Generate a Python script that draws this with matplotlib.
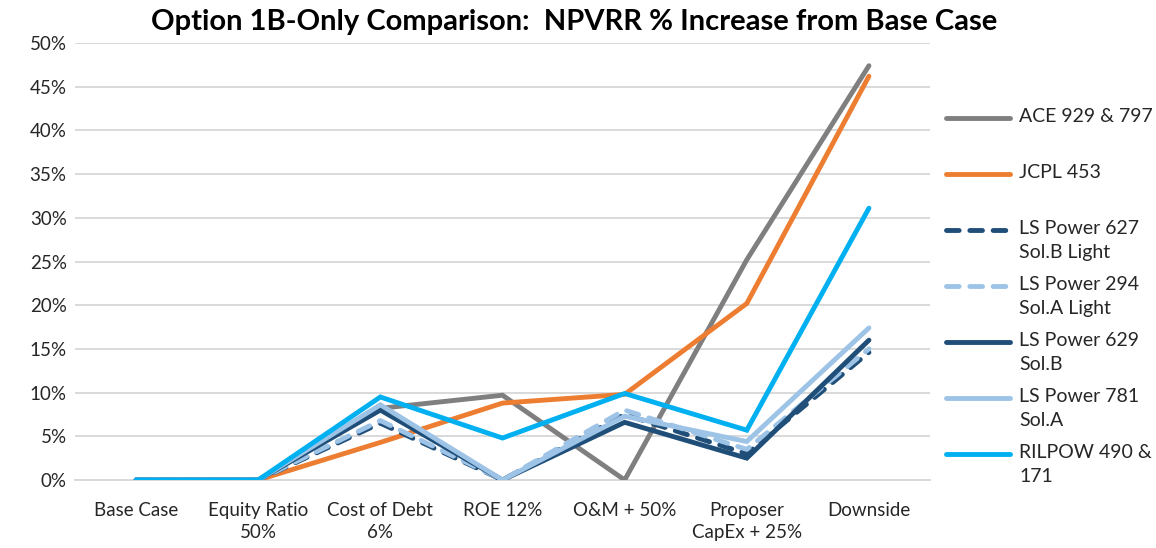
import matplotlib
matplotlib.use("Agg")
import matplotlib.pyplot as plt
from matplotlib.lines import Line2D
from matplotlib.ticker import FuncFormatter, MultipleLocator

plt.rcParams['font.family'] = ['Lato', 'DejaVu Sans']

categories = ["Base Case", "Equity Ratio\n50%", "Cost of Debt\n6%", "ROE 12%",
              "O&M + 50%", "Proposer\nCapEx + 25%", "Downside"]

ace = [0, 0, 8.2, 9.7, 0, 25.2, 47.4]
jcpl = [0, 0, 4.3, 8.8, 9.8, 20.2, 46.2]
ls627 = [0, 0, 6.5, 0, 7.5, 3.0, 14.6]
ls294 = [0, 0, 6.8, 0, 8.0, 3.5, 15.0]
ls629 = [0, 0, 8.0, 0, 6.6, 2.5, 16.0]
ls781 = [0, 0, 8.6, 0, 7.3, 4.4, 17.4]
rilpow = [0, 0, 9.5, 4.8, 9.9, 5.7, 31.1]

series_names = ["ACE 929 & 797", "JCPL 453", "LS Power 627\nSol.B Light",
                "LS Power 294\nSol.A Light", "LS Power 629\nSol.B",
                "LS Power 781\nSol.A", "RILPOW 490 &\n171"]
series_vals = [ace, jcpl, ls627, ls294, ls629, ls781, rilpow]
colors = ["#7F7F7F", "#ED7D31", "#1F4E79", "#9DC3E6", "#1F4E79", "#9DC3E6", "#00B0F0"]
styles = ["solid", "solid", "dashed", "dashed", "solid", "solid", "solid"]

fig = plt.figure(figsize=(11.56, 5.48), dpi=100)
ax = fig.add_axes([0.0649, 0.1241, 0.7396, 0.7974])

lw = 3.5
x = list(range(len(categories)))
for i, (name, vals, c, s) in enumerate(zip(series_names, series_vals, colors, styles)):
    kw = dict(color=c, lw=lw, solid_capstyle='round', solid_joinstyle='miter', zorder=3 + i)
    if s == "dashed":
        kw.update(dashes=(2.6, 2.2), dash_capstyle='round')
    ax.plot(x, vals, **kw)

ax.set_xlim(-0.5, len(categories) - 0.5)
ax.set_ylim(0, 50)
ax.yaxis.set_major_locator(MultipleLocator(5))
ax.yaxis.set_major_formatter(FuncFormatter(lambda v, p: f"{int(round(v))}%"))
ax.set_xticks(x)
ax.set_xticklabels(categories, fontsize=13.5, color="#262626", linespacing=1.35)
ax.tick_params(axis='y', labelsize=13.5, labelcolor="#262626", length=0, pad=6)
ax.tick_params(axis='x', length=0, pad=16)
ax.grid(axis='y', color="#D9D9D9", lw=1.4)
ax.set_axisbelow(True)
for sp in ["top", "right", "left"]:
    ax.spines[sp].set_visible(False)
ax.spines["bottom"].set_color("#D9D9D9")
ax.spines["bottom"].set_linewidth(1.4)

fig.text(0.497, 0.960, "Option 1B-Only Comparison:  NPVRR % Increase from Base Case",
         ha='center', va='center', fontsize=21, fontweight='bold', color='black')

# manual legend on the right
W, H = 1156, 548
y0 = 118
step = 56
for i, (name, c, s) in enumerate(zip(series_names, colors, styles)):
    yy = 1 - (y0 + i * step) / H
    kw = dict(color=c, lw=lw, solid_capstyle='round')
    if s == "dashed":
        kw.update(dashes=(2.6, 2.2), dash_capstyle='round')
    fig.add_artist(Line2D([946 / W, 1010 / W], [yy, yy], transform=fig.transFigure, **kw))
    fig.text(1019 / W, yy + 9.5 / H, name, ha='left', va='top', fontsize=14,
             color="#262626", linespacing=1.45)

fig.savefig("out.png", dpi=100)
